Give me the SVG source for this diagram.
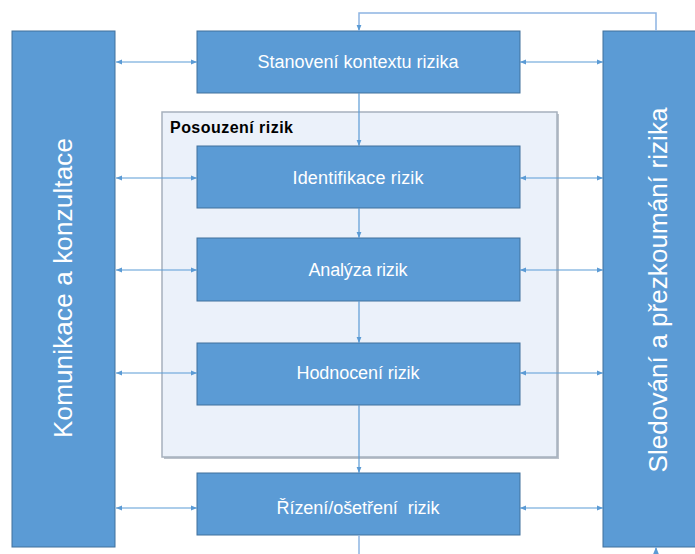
<svg xmlns="http://www.w3.org/2000/svg" width="695" height="554" viewBox="0 0 695 554">
<style>
.box{fill:#5B9BD5;stroke:#41719C;stroke-width:1}
.lbl{fill:#FFFFFF;font-family:"Liberation Sans",Arial,sans-serif;font-size:18px;text-anchor:middle}
.vlbl{fill:#FFFFFF;font-family:"Liberation Sans",Arial,sans-serif;font-size:26px;text-anchor:middle}
.con{fill:none;stroke:#5B9BD5;stroke-width:1.2}
.fb{fill:none;stroke:#8DB4E2;stroke-width:1.5}
</style>
<defs>
<marker id="ah" viewBox="0 0 10 10" refX="10" refY="5" markerWidth="6" markerHeight="6" orient="auto-start-reverse" markerUnits="userSpaceOnUse">
<path d="M0,1 L10,5 L0,9 z" fill="#5B9BD5"/>
</marker>
<marker id="ah2" viewBox="0 0 10 10" refX="10" refY="5" markerWidth="8" markerHeight="8" orient="auto-start-reverse" markerUnits="userSpaceOnUse">
<path d="M0,1 L10,5 L0,9 z" fill="#5B9BD5"/>
</marker>
</defs>
<rect width="695" height="554" fill="#FFFFFF"/>
<g id="frame-posouzeni">
<rect x="164" y="114" width="395" height="345" fill="#8E99A8" opacity="0.6"/>
<rect x="162" y="112" width="395" height="345" fill="#EBF1FA" stroke="#A6B0BD" stroke-width="1.5"/>
<text x="170" y="133" font-family="'Liberation Sans',Arial,sans-serif" font-size="16" font-weight="bold" fill="#000000" textLength="123">Posouzení rizik</text>
</g>
<g id="komunikace">
<rect class="box" x="12" y="31" width="103" height="516"/>
<text class="vlbl" transform="translate(72,288) rotate(-90)" textLength="300">Komunikace a konzultace</text>
</g>
<g id="sledovani">
<rect class="box" x="603" y="31" width="110" height="516"/>
<text class="vlbl" transform="translate(667,290) rotate(-90)" textLength="365">Sledování a přezkoumání rizika</text>
</g>
<g id="stanoveni">
<rect class="box" x="197" y="31" width="323" height="62"/>
<text class="lbl" x="358" y="68" textLength="201">Stanovení kontextu rizika</text>
</g>
<g id="identifikace">
<rect class="box" x="197" y="146" width="323" height="62"/>
<text class="lbl" x="358" y="184" textLength="131">Identifikace rizik</text>
</g>
<g id="analyza">
<rect class="box" x="197" y="238" width="323" height="63"/>
<text class="lbl" x="358" y="276" textLength="99">Analýza rizik</text>
</g>
<g id="hodnoceni">
<rect class="box" x="197" y="343" width="323" height="62"/>
<text class="lbl" x="358" y="379" textLength="123">Hodnocení rizik</text>
</g>
<g id="rizeni">
<rect class="box" x="197" y="473" width="323" height="62"/>
<text class="lbl" x="358" y="514" textLength="163" xml:space="preserve">Řízení/ošetření  rizik</text>
</g>
<g id="connectors">
<line class="con" x1="116" y1="62" x2="197" y2="62" marker-start="url(#ah)" marker-end="url(#ah)"/>
<line class="con" x1="116" y1="178" x2="197" y2="178" marker-start="url(#ah)" marker-end="url(#ah)"/>
<line class="con" x1="116" y1="270" x2="197" y2="270" marker-start="url(#ah)" marker-end="url(#ah)"/>
<line class="con" x1="116" y1="373" x2="197" y2="373" marker-start="url(#ah)" marker-end="url(#ah)"/>
<line class="con" x1="116" y1="508" x2="197" y2="508" marker-start="url(#ah)" marker-end="url(#ah)"/>
<line class="con" x1="520" y1="62" x2="603" y2="62" marker-start="url(#ah)" marker-end="url(#ah)"/>
<line class="con" x1="520" y1="178" x2="603" y2="178" marker-start="url(#ah)" marker-end="url(#ah)"/>
<line class="con" x1="520" y1="270" x2="603" y2="270" marker-start="url(#ah)" marker-end="url(#ah)"/>
<line class="con" x1="520" y1="373" x2="603" y2="373" marker-start="url(#ah)" marker-end="url(#ah)"/>
<line class="con" x1="520" y1="508" x2="603" y2="508" marker-start="url(#ah)" marker-end="url(#ah)"/>
<line class="con" x1="359" y1="93" x2="359" y2="146" marker-end="url(#ah)"/>
<line class="con" x1="359" y1="208" x2="359" y2="238" marker-end="url(#ah)"/>
<line class="con" x1="359" y1="301" x2="359" y2="343" marker-end="url(#ah)"/>
<line class="con" x1="359" y1="405" x2="359" y2="473" marker-end="url(#ah)"/>
<path class="fb" d="M656,31 V13 H359 V31" marker-end="url(#ah)"/>
<line class="fb" x1="359" y1="535" x2="359" y2="556"/>
<line class="fb" x1="656" y1="556" x2="656" y2="547" marker-end="url(#ah2)"/>
</g>
</svg>
